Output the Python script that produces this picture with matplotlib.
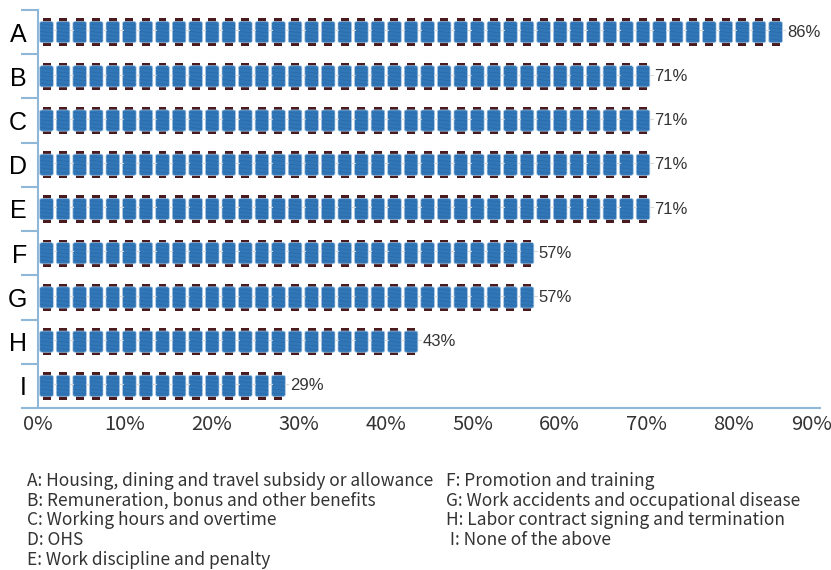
import matplotlib
matplotlib.use("Agg")
import matplotlib.pyplot as plt
from matplotlib.patches import Rectangle, FancyBboxPatch
from matplotlib.transforms import ScaledTranslation
import numpy as np

# --- data ---------------------------------------------------------------
categories = ["A", "B", "C", "D", "E", "F", "G", "H", "I"]
values = [86, 71, 71, 71, 71, 57, 57, 43, 29]
xticks = [0, 10, 20, 30, 40, 50, 60, 70, 80, 90]
legend_left = [
    "A: Housing, dining and travel subsidy or allowance",
    "B: Remuneration, bonus and other benefits",
    "C: Working hours and overtime",
    "D: OHS",
    "E: Work discipline and penalty",
]
legend_right = [
    "F: Promotion and training",
    "G: Work accidents and occupational disease",
    "H: Labor contract signing and termination",
    " I: None of the above",
]

# --- style --------------------------------------------------------------
AXIS_COLOR = "#8fb7d8"
BODY = "#3177b8"
THREAD = "#2763a0"
CAP = "#4a1b1e"
TEXT = "#333333"
CJK = ["Noto Sans CJK SC", "DejaVu Sans"]

PITCH = 1.907     # one spool per ~1.9 % of the axis
START = 0.2
BODY_W = 1.56
CAP_W = 0.92
BODY_H = 0.48
CAP_H = 0.07

fig = plt.figure(figsize=(8.31, 5.70), dpi=100)
ax = fig.add_axes([38 / 831, 1 - 408 / 570, (820 - 38) / 831, (408 - 10) / 570])


def draw_spool(ax, x0, yc):
    """One thread spool icon with its left edge at x0, centred on yc."""
    ax.add_patch(Rectangle((x0 + (BODY_W - CAP_W) / 2, yc - BODY_H / 2 - CAP_H),
                           CAP_W, BODY_H + 2 * CAP_H, facecolor=CAP, edgecolor="none"))
    ax.add_patch(FancyBboxPatch((x0, yc - BODY_H / 2), BODY_W, BODY_H,
                                boxstyle="round,pad=0,rounding_size=0.3",
                                mutation_aspect=0.12,
                                facecolor=BODY, edgecolor="#a9c8e4", linewidth=0.5))
    # thread wraps
    for k in range(5):
        yy = yc - BODY_H / 2 + (k + 0.8) * BODY_H / 5.6
        ax.plot([x0 + 0.1, x0 + BODY_W - 0.1], [yy - 0.015, yy + 0.015],
                color=THREAD, linewidth=0.5, alpha=0.7)
    # loose thread towards the next spool
    ax.plot([x0 + BODY_W, x0 + PITCH], [yc - 0.04, yc - 0.04],
            color="#d8d8d8", linewidth=0.8)


for i, v in enumerate(values):
    n = int(round(v / PITCH))
    for k in range(n):
        draw_spool(ax, START + k * PITCH, i)
    end = START + (n - 1) * PITCH + BODY_W
    ax.text(end + 0.55, i, f"{v}%", va="center", ha="left", fontsize=12,
            color=TEXT, family="Liberation Sans")

ax.set_xlim(0, 90)
ax.set_ylim(len(categories) - 0.5, -0.5)

# y axis: labels in the middle of each band, ticks on the band edges
ax.set_yticks(np.arange(len(categories) + 1) - 0.5)
ax.set_yticklabels([])
ax.set_yticks(np.arange(len(categories)), minor=True)
ax.set_yticklabels(categories, minor=True, fontsize=18, family="Liberation Sans")
ax.tick_params(axis="y", which="major", length=12, width=1.5, color=AXIS_COLOR)
ax.tick_params(axis="y", which="minor", length=0, pad=8)

ax.set_xticks(xticks)
ax.set_xticklabels([f"{t}%" for t in xticks], fontsize=14.5, family=CJK, color=TEXT)
ax.tick_params(axis="x", length=0, pad=4)
# keep the last tick label inside the canvas
last = ax.get_xticklabels()[-1]
last.set_horizontalalignment("right")
last.set_transform(last.get_transform() + ScaledTranslation(12 / 100, 0, fig.dpi_scale_trans))

for side in ["top", "right"]:
    ax.spines[side].set_visible(False)
for side in ["left", "bottom"]:
    ax.spines[side].set_color(AXIS_COLOR)
    ax.spines[side].set_linewidth(1.5)

# legend text underneath
for j, s in enumerate(legend_left):
    fig.text(27 / 831, 1 - (481 + j * 19.7) / 570, s, fontsize=12.5, family=CJK,
             color=TEXT, va="center")
for j, s in enumerate(legend_right):
    fig.text(446 / 831, 1 - (481 + j * 19.7) / 570, s, fontsize=12.5, family=CJK,
             color=TEXT, va="center")

fig.savefig("out.png", dpi=100)
